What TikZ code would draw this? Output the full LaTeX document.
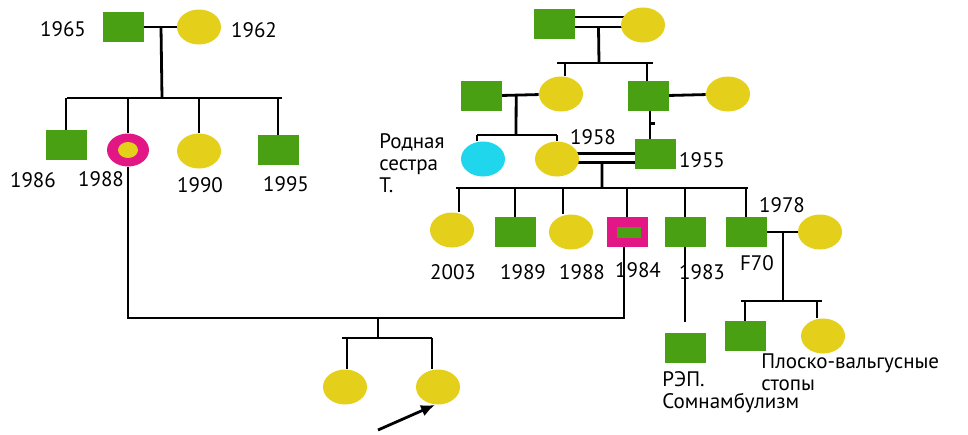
\documentclass[tikz,border=0pt]{standalone}
\usepackage{fontspec}
\setmainfont{PT Sans}
\usetikzlibrary{shapes,arrows.meta,positioning,calc,backgrounds}
\definecolor{pgreen}{RGB}{72,160,18}
\definecolor{pyellow}{RGB}{228,207,26}
\definecolor{pmagenta}{RGB}{226,22,132}
\definecolor{pcyan}{RGB}{32,214,236}

\begin{document}
\begin{tikzpicture}[x=0.5pt,y=-0.5pt,
    male/.style={rectangle,fill=pgreen,minimum width=20.5pt,minimum height=15pt,inner sep=0pt},
    female/.style={ellipse,fill=pyellow,minimum width=22pt,minimum height=17.5pt,inner sep=0pt},
    line/.style={line width=1.4pt},
    lbl/.style={font=\fontsize{10.5}{11}\selectfont,inner sep=0pt,align=left}]
    \useasboundingbox (0,0) rectangle (968,434);

    % Left family
    \node[male] (m1965) at (123,27) {};
    \node[female] (f1962) at (199,27) {};
    \node[lbl] (t1965) at (63,29) {1965};
    \node[lbl] (t1962) at (254,30) {1962};
    \node[male] (c1986) at (66,145) {};
    \node[female,fill=pmagenta,minimum width=21pt,minimum height=16.5pt] (c1988) at (128,150) {};
    \node[female,minimum width=10pt,minimum height=8pt] (c1988in) at (c1988) {};
    \node[female] (c1990) at (199,151) {};
    \node[male] (c1995) at (278,150) {};
    \node[lbl] (t1986) at (33,180) {1986};
    \node[lbl] (t1988) at (101,179) {1988};
    \node[lbl] (t1990) at (200,185) {1990};
    \node[lbl] (t1995) at (286,184) {1995};
    \coordinate (lfam) at (162,98);

    % Right family, grandparents
    \node[male] (gm) at (554,24) {};
    \node[female] (gf) at (643,25) {};
    \coordinate (rfam) at (599,63);
    \node[male] (g2lm) at (481,96) {};
    \node[female] (g2f) at (561,94) {};
    \node[male] (g2m) at (648,96) {};
    \node[female] (g2rf) at (728,94) {};
    \coordinate (lsib2) at (516,135);

    % Parents generation
    \node[female,fill=pcyan] (sis) at (483,159) {};
    \node[female] (f1958) at (557,159) {};
    \node[male] (p1955) at (655,154) {};
    \node[lbl,anchor=west] (tsis) at (379,163) {Родная\\сестра\\Т.};
    \node[lbl] (t1958) at (593,137) {1958};
    \node[lbl] (t1955) at (702,160) {1955};
    \coordinate (rsib) at (602,188);

    % Children of 1955 & 1958
    \node[female] (k2003) at (452,230) {};
    \node[male] (k1989) at (515,232) {};
    \node[female] (k1988) at (571,232) {};
    \node[male,fill=pmagenta] (k1984) at (627,232) {};
    \node[male,minimum width=12pt,minimum height=5.5pt] (k1984in) at (629,232) {};
    \node[male] (k1983) at (685,232) {};
    \node[male] (kF70) at (746,232) {};
    \node[female] (sp78) at (820,232) {};
    \node[lbl] (t2003) at (453,272) {2003};
    \node[lbl] (t1989) at (523,272) {1989};
    \node[lbl] (t1988b) at (582,272) {1988};
    \node[lbl] (t1984) at (638,270) {1984};
    \node[lbl] (t1983) at (702,272) {1983};
    \node[lbl] (tF70) at (757,263) {F70};
    \node[lbl] (t1978) at (782,205) {1978};

    % Grandchildren
    \node[male] (rep) at (685,348) {};
    \coordinate (repend) at (685,322);
    \node[lbl,anchor=west] (trep) at (662,392) {РЭП.\\Сомнамбулизм};
    \coordinate (fsib) at (783,301);
    \node[male] (gs) at (745,336) {};
    \node[female] (gd) at (823,336) {};
    \node[lbl,anchor=west] (tgd) at (761,372) {Плоско-вальгусные\\стопы};

    % Proband
    \coordinate (bline) at (378,318);
    \coordinate (psib) at (378,338);
    \node[female] (sisP) at (345,387) {};
    \node[female] (pro) at (438,387) {};
    \coordinate (arr) at (378,430);

    \begin{scope}[on background layer]
        % left family lines
        \draw[line] (m1965) -- (f1962);
        \draw[line] ($(m1965)!0.5!(f1962)$) -- (lfam);
        \draw[line] ($(c1986 |- lfam)+(1,0)$) -- ($(c1995 |- lfam)+(4,0)$);
        \foreach \k in {c1986,c1988,c1990,c1995}
            \draw[line] (\k.north |- lfam) -- (\k.north);
        % grandparents (double line)
        \draw[line] ([yshift=3.5pt]gm.center) -- ([yshift=3.5pt]gm.center -| gf.center);
        \draw[line] ([yshift=-1.5pt]gm.center) -- ([yshift=-1.5pt]gm.center -| gf.center);
        \draw[line] ($(gm)!0.5!(gf)+(0,3)$) -- (rfam);
        \draw[line] ($(g2f |- rfam)+(-4,0)$) -- ($(g2m |- rfam)+(5,0)$);
        \draw[line] ($(g2f.north |- rfam)+(4,0)$) -- ($(g2f.north)+(4,0)$);
        \draw[line] ($(g2m.north |- rfam)+(-1,0)$) -- ($(g2m.north)+(-1,0)$);
        \draw[line] (g2lm) -- (g2f);
        \draw[line] (g2m) -- (g2rf);
        \draw[line] ($(g2lm)!0.44!(g2f)$) -- (lsib2);
        \draw[line] ($(sis |- lsib2)+(-6,0)$) -- (f1958 |- lsib2);
        \draw[line] ($(sis.north |- lsib2)+(-6,0)$) -- ($(sis.north)+(-6,0)$);
        \draw[line] (f1958.north |- lsib2) -- (f1958.north);
        \draw[line] ($(g2m.south)+(2,0)$) -- ($(g2m.south |- p1955.north)+(2,0)$);
        \draw[line] ($(g2m.south)!0.45!(g2m.south |- p1955.north)+(2,0)$) -- +(5,0);
        % parents (double line)
        \draw[line] ([yshift=2.75pt]f1958.center) -- ([yshift=2.75pt]f1958.center -| p1955.center);
        \draw[line] ([yshift=-1.75pt]f1958.center) -- ([yshift=-1.75pt]f1958.center -| p1955.center);
        \draw[line] ($(f1958)!0.46!(p1955)+(0,5)$) -- (rsib);
        \draw[line] ($(k2003 |- rsib)+(4,0)$) -- ($(kF70 |- rsib)+(2,0)$);
        \draw[line] ($(k2003.north |- rsib)+(7,0)$) -- ($(k2003.north)+(7,0)$);
        \draw[line] (k1989.north |- rsib) -- (k1989.north);
        \draw[line] ($(k1988.north |- rsib)+(-8,0)$) -- ($(k1988.north)+(-8,0)$);
        \draw[line] (k1984.north |- rsib) -- (k1984.north);
        \draw[line] (k1983.north |- rsib) -- (k1983.north);
        \draw[line] (kF70.north |- rsib) -- (kF70.north);
        % F70 family
        \draw[line] (kF70) -- (sp78);
        \draw[line] ($(kF70)!0.5!(sp78)$) -- (fsib);
        \draw[line] ($(gs |- fsib)+(-4,0)$) -- ($(gd |- fsib)+(-1,0)$);
        \draw[line] (gs.north |- fsib) -- (gs.north);
        \draw[line] ($(gd.north |- fsib)+(-6,0)$) -- ($(gd.north)+(-6,0)$);
        \draw[line] (k1983.south) -- (repend);
        % proband line
        \draw[line] (c1988.south) -- (c1988 |- bline) -- ($(k1984 |- bline)+(-3,0)$) -- ($(k1984.south)+(-3,0)$);
        \draw[line] (bline) -- (psib);
        \draw[line] ($(sisP |- psib)+(-3,0)$) -- ($(pro |- psib)+(-6,0)$);
        \draw[line] ($(sisP.north |- psib)+(2,0)$) -- ($(sisP.north)+(2,0)$);
        \draw[line] ($(pro.north |- psib)+(-6,0)$) -- ($(pro.north)+(-6,0)$);
    \end{scope}

    % arrow to proband
    \draw[line,-{Latex[length=7pt,width=6pt]}] (arr) -- ([xshift=-1.5pt]pro.south);
\end{tikzpicture}
\end{document}
